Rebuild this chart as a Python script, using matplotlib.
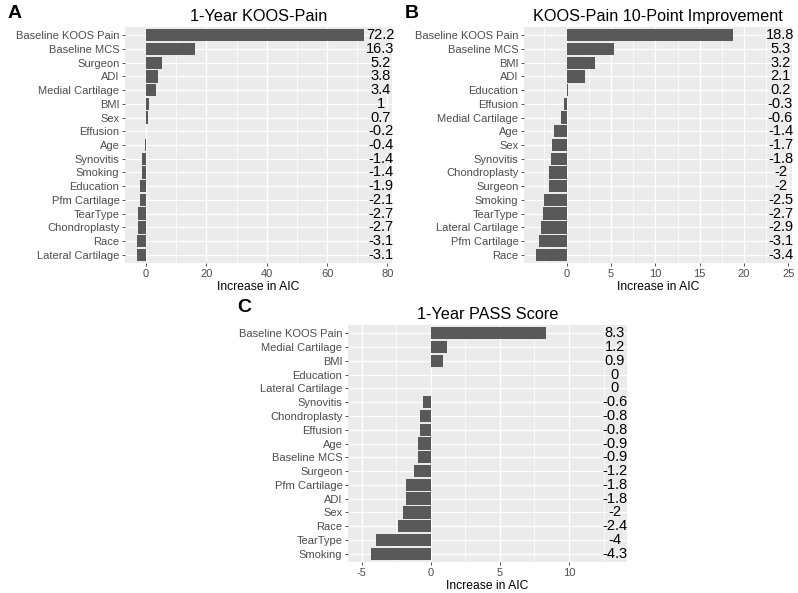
import matplotlib.pyplot as plt
import numpy as np

plt.rcParams['font.family'] = ['Liberation Sans', 'DejaVu Sans']

# panel A: 1-Year KOOS-Pain
a_labels = ['Baseline KOOS Pain', 'Baseline MCS', 'Surgeon', 'ADI', 'Medial Cartilage',
            'BMI', 'Sex', 'Effusion', 'Age', 'Synovitis', 'Smoking', 'Education',
            'Pfm Cartilage', 'TearType', 'Chondroplasty', 'Race', 'Lateral Cartilage']
a_values = [72.2, 16.3, 5.2, 3.8, 3.4, 1, 0.7, -0.2, -0.4, -1.4, -1.4, -1.9,
            -2.1, -2.7, -2.7, -3.1, -3.1]

# panel B: KOOS-Pain 10-Point Improvement
b_labels = ['Baseline KOOS Pain', 'Baseline MCS', 'BMI', 'ADI', 'Education', 'Effusion',
            'Medial Cartilage', 'Age', 'Sex', 'Synovitis', 'Chondroplasty', 'Surgeon',
            'Smoking', 'TearType', 'Lateral Cartilage', 'Pfm Cartilage', 'Race']
b_values = [18.8, 5.3, 3.2, 2.1, 0.2, -0.3, -0.6, -1.4, -1.7, -1.8, -2, -2,
            -2.5, -2.7, -2.9, -3.1, -3.4]

# panel C: 1-Year PASS Score
c_labels = ['Baseline KOOS Pain', 'Medial Cartilage', 'BMI', 'Education', 'Lateral Cartilage',
            'Synovitis', 'Chondroplasty', 'Effusion', 'Age', 'Baseline MCS', 'Surgeon',
            'Pfm Cartilage', 'ADI', 'Sex', 'Race', 'TearType', 'Smoking']
c_values = [8.3, 1.2, 0.9, 0, 0, -0.6, -0.8, -0.8, -0.9, -0.9, -1.2,
            -1.8, -1.8, -2, -2.4, -4, -4.3]

W, H = 798, 593
fig = plt.figure(figsize=(W / 100, H / 100), dpi=100)


def px_axes(left, top, right, bottom):
    return fig.add_axes([left / W, 1 - bottom / H, (right - left) / W, (bottom - top) / H])


def draw_panel(ax, labels, values, title, xlim, major, minor, label_x):
    n = len(labels)
    y = np.arange(n)[::-1]
    ax.set_facecolor('#EBEBEB')
    for m in minor:
        ax.axvline(m, color='white', lw=0.5, zorder=0)
    for m in major:
        ax.axvline(m, color='white', lw=1.0, zorder=0)
    for yy in y:
        ax.axhline(yy, color='white', lw=1.0, zorder=0)
    ax.barh(y, values, height=0.9, color='#595959', zorder=2)
    for yy, v in zip(y, values):
        ax.text(label_x, yy, f'{v:g}', ha='center', va='center', fontsize=10.5,
                color='black', zorder=3)
    ax.set_xlim(*xlim)
    ax.set_ylim(-0.6, n - 0.4)
    ax.set_yticks(y)
    ax.set_yticklabels(labels)
    ax.set_xticks(major)
    ax.set_xticklabels([f'{m:g}' for m in major])
    ax.tick_params(axis='both', length=2.5, width=0.6, color='#333333',
                   labelcolor='#4D4D4D', labelsize=8, pad=1.5)
    for s in ax.spines.values():
        s.set_visible(False)
    ax.set_xlabel('Increase in AIC', fontsize=8.7, color='black', labelpad=2)
    ax.set_title(title, fontsize=11.7, pad=4)


axA = px_axes(125, 27, 392, 263)
draw_panel(axA, a_labels, a_values, '1-Year KOOS-Pain', (-7.0, 81.5),
           [0, 20, 40, 60, 80], [10, 30, 50, 70], 77.7)

axB = px_axes(524, 27, 792, 263)
draw_panel(axB, b_labels, b_values, 'KOOS-Pain 10-Point Improvement', (-4.8, 25.4),
           [0, 5, 10, 15, 20, 25], [-2.5, 2.5, 7.5, 12.5, 17.5, 22.5], 24.1)

axC = px_axes(348, 325, 627, 562)
draw_panel(axC, c_labels, c_values, '1-Year PASS Score', (-6.0, 14.2),
           [-5, 0, 5, 10], [-2.5, 2.5, 7.5, 12.5], 13.3)

fig.text(8 / W, 1 - 13 / H, 'A', fontsize=14, fontweight='bold', va='center')
fig.text(405 / W, 1 - 13 / H, 'B', fontsize=14, fontweight='bold', va='center')
fig.text(237 / W, 1 - 308 / H, 'C', fontsize=14, fontweight='bold', va='center')

fig.savefig('out.png', dpi=100)
